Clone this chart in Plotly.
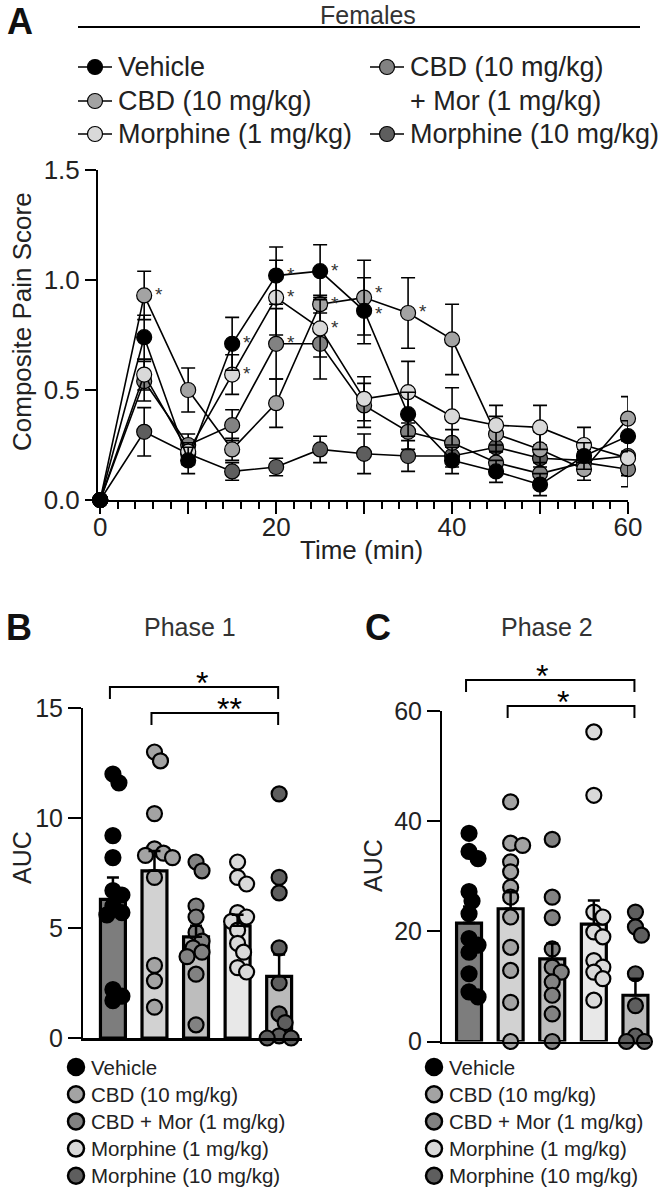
import plotly.graph_objects as go

W, H = 668, 1190
FONT = "Liberation Sans, Arial, sans-serif"
TXT = "#222222"

# ---------------- data ----------------
time_min = [0, 5, 10, 15, 20, 25, 30, 35, 40, 45, 50, 55, 60]
group_names = ["Vehicle", "CBD (10 mg/kg)", "CBD + Mor (1 mg/kg)", "Morphine (1 mg/kg)", "Morphine (10 mg/kg)"]

veh = [0, 0.74, 0.18, 0.71, 1.02, 1.04, 0.86, 0.39, 0.18, 0.13, 0.07, 0.20, 0.29]
veh_sem = [0, 0.10, 0.06, 0.12, 0.13, 0.12, 0.15, 0.10, 0.06, 0.05, 0.05, 0.06, 0.07]
cbd = [0, 0.93, 0.50, 0.23, 0.44, 0.89, 0.92, 0.85, 0.73, 0.30, 0.23, 0.14, 0.37]
cbd_sem = [0, 0.11, 0.10, 0.05, 0.11, 0.04, 0.17, 0.16, 0.16, 0.08, 0.08, 0.05, 0.10]
cbdmor = [0, 0.54, 0.25, 0.34, 0.71, 0.71, 0.43, 0.31, 0.26, 0.17, 0.12, 0.17, 0.14]
cbdmor_sem = [0, 0.09, 0.05, 0.07, 0.16, 0.16, 0.10, 0.08, 0.06, 0.05, 0.05, 0.05, 0.08]
mor1 = [0, 0.57, 0.22, 0.57, 0.92, 0.78, 0.46, 0.49, 0.38, 0.34, 0.33, 0.25, 0.19]
mor1_sem = [0, 0.07, 0.04, 0.09, 0.17, 0.13, 0.10, 0.14, 0.13, 0.09, 0.10, 0.08, 0.08]
mor10 = [0, 0.31, 0.21, 0.13, 0.15, 0.23, 0.21, 0.20, 0.20, 0.24, 0.19, 0.18, 0.20]
mor10_sem = [0, 0.11, 0.05, 0.04, 0.04, 0.06, 0.09, 0.07, 0.05, 0.06, 0.06, 0.05, 0.08]

# significance stars in panel A: (group index, time index)
stars_A = [(1, 1), (0, 3), (3, 3), (0, 4), (3, 4), (2, 4), (0, 5), (1, 5), (3, 5), (1, 6), (0, 6), (1, 7)]

# Phase 1 AUC
p1_mean = [6.3, 7.6, 4.6, 5.1, 2.8]
p1_sem = [1.0, 0.9, 0.5, 0.5, 1.0]
p1_veh = [12.0, 11.6, 9.2, 8.2, 6.7, 6.5, 6.0, 5.7, 5.6, 2.2, 1.9, 1.7]
p1_cbd = [13.0, 12.6, 10.2, 8.6, 8.4, 8.3, 8.2, 7.3, 3.3, 2.6, 1.4]
p1_cbdmor = [8.0, 7.6, 6.0, 5.5, 4.8, 4.4, 4.1, 3.9, 3.7, 2.9, 0.6]
p1_mor1 = [8.0, 7.3, 7.0, 5.7, 5.5, 5.3, 4.9, 4.3, 3.9, 3.2, 3.0]
p1_mor10 = [11.1, 7.3, 6.6, 4.1, 2.5, 1.1, 0.7, 0.1, 0.0, 0.0]
p1_sig = [(0, 4, "*"), (1, 4, "**")]

# Phase 2 AUC
p2_mean = [21.5, 24.1, 15.0, 21.3, 8.4]
p2_sem = [3.0, 3.0, 2.8, 4.3, 3.0]
p2_veh = [37.8, 34.5, 33.2, 27.2, 25.5, 23.2, 18.7, 17.5, 16.2, 12.3, 9.0, 8.1]
p2_cbd = [43.5, 36.0, 35.6, 32.6, 30.8, 28.0, 26.2, 22.6, 17.1, 12.9, 7.1, 0.0]
p2_cbdmor = [36.7, 26.2, 22.5, 16.8, 13.5, 12.6, 10.8, 8.4, 5.0, 0.0]
p2_mor1 = [56.2, 44.7, 23.5, 22.6, 19.9, 19.0, 14.7, 13.5, 12.6, 11.4, 7.5]
p2_mor10 = [23.5, 20.8, 19.3, 12.3, 6.5, 1.0, 0.0, 0.0, 0.0]
p2_sig = [(0, 4, "*"), (1, 4, "*")]

# ---------------- styles ----------------
dot_colors = ["#000000", "#a3a3a3", "#828282", "#d9d9d9", "#5e5e5e"]
bar_colors = ["#7d7d7d", "#d2d2d2", "#bdbdbd", "#e8e8e8", "#bababa"]


def PX(x):
    return x / W


def PY(y):
    return 1 - y / H


fig = go.Figure()

# ---------------- Panel A ----------------
A_x0, A_x1, A_ytop, A_ybot = 98, 628, 170, 500
A_xr = [-0.25, 60]
A_yr = [0, 1.5]
A_means = [veh, cbd, cbdmor, mor1, mor10]
A_sems = [veh_sem, cbd_sem, cbdmor_sem, mor1_sem, mor10_sem]
for gi in [4, 2, 1, 3, 0]:
    fig.add_trace(go.Scatter(
        x=time_min, y=A_means[gi], mode="lines+markers", cliponaxis=False,
        line=dict(color="black", width=1.6),
        marker=dict(size=15, color=dot_colors[gi], line=dict(color="black", width=1.2)),
        error_y=dict(type="data", array=A_sems[gi], color="black", thickness=1.6, width=7),
        xaxis="x", yaxis="y", hoverinfo="skip"))

annotations = []

# stars: keep stars at the same time point from colliding by nudging them apart
ppy_A = (A_ybot - A_ytop) / (A_yr[1] - A_yr[0])
STAR_GAP = 21
by_time = {}
for gi, ti in stars_A:
    by_time.setdefault(ti, []).append(gi)
for ti, gis in by_time.items():
    gis = sorted(gis, key=lambda g: -A_means[g][ti])
    pos = [A_means[g][ti] * ppy_A for g in gis]  # pixel heights (up = larger)
    shifts = [0.0] * len(gis)
    for k in range(1, len(gis)):
        gap = (pos[k - 1] + shifts[k - 1]) - (pos[k] + shifts[k])
        if gap < STAR_GAP:
            need = STAR_GAP - gap
            shifts[k - 1] += need / 2
            shifts[k] -= need / 2
    for g, s in zip(gis, shifts):
        annotations.append(dict(x=time_min[ti], y=A_means[g][ti], xref="x", yref="y", text="*",
                                showarrow=False, xshift=15, yshift=1 + s, borderpad=0,
                                font=dict(family=FONT, size=19, color="#333333")))

# ---------------- Panels B & C ----------------
def swarm(vals, ppx, ppy, d=9.5, step=3.0):
    placed, offs = [], []
    for v in vals:
        y = v * ppy
        cands = [0.0]
        for k in range(1, 14):
            cands += [k * step, -k * step]
        chosen = cands[-1]
        for c in cands:
            if all((c - px) ** 2 + (y - py) ** 2 >= d * d for px, py in placed):
                chosen = c
                break
        placed.append((chosen, y))
        offs.append(chosen / ppx)
    return offs


def bar_panel(xa, ya, means, sems, groups, x0, x1, xr, ytop, ybot, yr):
    ppx = (x1 - x0) / (xr[1] - xr[0])
    ppy = (ybot - ytop) / (yr[1] - yr[0])
    cats = list(range(len(means)))
    fig.add_trace(go.Bar(x=cats, y=means, width=0.6, xaxis=xa, yaxis=ya,
                         marker=dict(color=bar_colors, line=dict(color="black", width=3.2)),
                         hoverinfo="skip"))
    for gi, vals in enumerate(groups):
        offs = swarm(vals, ppx, ppy)
        fig.add_trace(go.Scatter(
            x=[gi + o for o in offs], y=vals, mode="markers", cliponaxis=False,
            xaxis=xa, yaxis=ya, hoverinfo="skip",
            marker=dict(size=15, color=dot_colors[gi], line=dict(color="black", width=2.2))))
    fig.add_trace(go.Scatter(
        x=cats, y=means, mode="markers", xaxis=xa, yaxis=ya, cliponaxis=False, hoverinfo="skip",
        marker=dict(size=1, color="rgba(0,0,0,0)"),
        error_y=dict(type="data", array=sems, arrayminus=[0] * len(sems), symmetric=False,
                     color="black", thickness=2.5, width=6)))
    return ppx


B_x0, B_x1, B_xr = 83, 302, [-0.72, 4.55]
B_ytop, B_ybot, B_yr = 708, 1038, [0, 15]
C_x0, C_x1, C_xr = 442, 650, [-0.65, 4.35]
C_ytop, C_ybot, C_yr = 711, 1041.5, [0, 60]

ppx_B = bar_panel("x2", "y2", p1_mean, p1_sem, [p1_veh, p1_cbd, p1_cbdmor, p1_mor1, p1_mor10],
                  B_x0, B_x1, B_xr, B_ytop, B_ybot, B_yr)
ppx_C = bar_panel("x3", "y3", p2_mean, p2_sem, [p2_veh, p2_cbd, p2_cbdmor, p2_mor1, p2_mor10],
                  C_x0, C_x1, C_xr, C_ytop, C_ybot, C_yr)

shapes = []


def brackets(sig, x0, xr, ppx, levels):
    def cx(c):
        return x0 + (c - xr[0]) * ppx
    for (a, b, txt), lev in zip(sig, levels):
        xa, xb = cx(a) - 3, cx(b) - 1
        shapes.append(dict(type="path", xref="paper", yref="paper",
                           path=f"M {PX(xa)},{PY(lev + 12)} L {PX(xa)},{PY(lev)} L {PX(xb)},{PY(lev)} L {PX(xb)},{PY(lev + 12)}",
                           line=dict(color="black", width=2)))
        annotations.append(dict(x=PX((xa + xb) / 2), y=PY(lev - 4), xref="paper", yref="paper",
                                text=txt, showarrow=False, yanchor="middle",
                                font=dict(family=FONT, size=32, color="black")))


brackets(p1_sig, B_x0, B_xr, ppx_B, [687, 713])
brackets(p2_sig, C_x0, C_xr, ppx_C, [680, 706])

# Females header
shapes.append(dict(type="line", xref="paper", yref="paper", x0=PX(78), x1=PX(640), y0=PY(27), y1=PY(27),
                   line=dict(color="black", width=2)))


def text(x, y, s, size, color=TXT, angle=0, xanchor="center", bold=False):
    annotations.append(dict(x=PX(x), y=PY(y), xref="paper", yref="paper", text=(f"<b>{s}</b>" if bold else s),
                            showarrow=False, textangle=angle, xanchor=xanchor, yanchor="middle",
                            borderpad=0, font=dict(family=FONT, size=size, color=color)))


text(368, 15, "Females", 25, "#333333")
text(20, 21, "A", 36, "#111111", bold=True)
text(19, 627, "B", 36, "#111111", bold=True)
text(378, 627, "C", 36, "#111111", bold=True)
text(190, 627, "Phase 1", 25, "#333333")
text(547, 627, "Phase 2", 25, "#333333")
text(22, 322, "Composite Pain Score", 26, TXT, angle=-90)
text(361, 550, "Time (min)", 26, TXT)
text(22, 858, "AUC", 25, TXT, angle=-90)
text(373, 866, "AUC", 25, TXT, angle=-90)

# Legend A (two columns, line-circle-line symbols)
legA = [(95, 67, 0, "Vehicle"), (95, 101, 1, "CBD (10 mg/kg)"), (95, 134, 3, "Morphine (1 mg/kg)"),
        (387, 67, 2, "CBD (10 mg/kg)"), (387, 134, 4, "Morphine (10 mg/kg)")]
for mx, my, gi, lab in legA:
    fig.add_trace(go.Scatter(x=[mx - 17, mx + 17], y=[my, my], mode="lines", xaxis="x4", yaxis="y4",
                             line=dict(color="black", width=1.6), hoverinfo="skip", cliponaxis=False))
    fig.add_trace(go.Scatter(x=[mx], y=[my], mode="markers", xaxis="x4", yaxis="y4", cliponaxis=False,
                             marker=dict(size=15, color=dot_colors[gi], line=dict(color="black", width=1.2)),
                             hoverinfo="skip"))
    text(mx + 22, my, lab, 27, TXT, xanchor="left")
text(409, 101, "+ Mor (1 mg/kg)", 27, TXT, xanchor="left")

# Legends B & C
for lx in (76, 434):
    for gi, lab in enumerate(group_names):
        ly = 1067 + gi * 27.2
        fig.add_trace(go.Scatter(x=[lx], y=[ly], mode="markers", xaxis="x4", yaxis="y4", cliponaxis=False,
                                 marker=dict(size=16, color=dot_colors[gi], line=dict(color="black", width=2.5)),
                                 hoverinfo="skip"))
        text(lx + 14, ly, lab, 20.5, TXT, xanchor="left")

tickfont = dict(family=FONT, size=26, color=TXT)
tickfont_bc = dict(family=FONT, size=25, color=TXT)
axcommon = dict(showline=True, linecolor="black", linewidth=2, showgrid=False, zeroline=False,
                ticks="outside", tickcolor="black", tickwidth=2)

fig.update_layout(
    width=W, height=H, margin=dict(l=0, r=0, t=0, b=0, autoexpand=False),
    paper_bgcolor="white", plot_bgcolor="rgba(0,0,0,0)", showlegend=False,
    xaxis=dict(domain=[PX(A_x0), PX(A_x1)], range=A_xr, anchor="y",
               tickvals=[0, 10, 20, 30, 40, 50, 60], ticktext=["0", "", "20", "", "40", "", "60"],
               ticklen=12, tickfont=tickfont, ticklabelstandoff=-9,
               minor=dict(dtick=2, tick0=0, ticks="outside", ticklen=7, tickwidth=2, tickcolor="black"),
               **axcommon),
    yaxis=dict(domain=[PY(A_ybot), PY(A_ytop)], range=A_yr, anchor="x",
               tickvals=[0, 0.5, 1.0, 1.5], ticktext=["0.0", "0.5", "1.0", "1.5"],
               ticklen=11, tickfont=tickfont, **axcommon),
    xaxis2=dict(domain=[PX(B_x0), PX(B_x1)], range=B_xr, anchor="y2", showline=True, linecolor="black",
                linewidth=2.5, showgrid=False, zeroline=False, ticks="", showticklabels=False),
    yaxis2=dict(domain=[PY(B_ybot), PY(B_ytop)], range=B_yr, anchor="x2",
                tickvals=[0, 5, 10, 15], ticklen=13, tickfont=tickfont_bc, **axcommon),
    xaxis3=dict(domain=[PX(C_x0), PX(C_x1)], range=C_xr, anchor="y3", showline=True, linecolor="black",
                linewidth=2.5, showgrid=False, zeroline=False, ticks="", showticklabels=False),
    yaxis3=dict(domain=[PY(C_ybot), PY(C_ytop)], range=C_yr, anchor="x3",
                tickvals=[0, 20, 40, 60], ticklen=13, tickfont=tickfont_bc, **axcommon),
    xaxis4=dict(domain=[0, 1], range=[0, W], visible=False, anchor="y4"),
    yaxis4=dict(domain=[0, 1], range=[H, 0], visible=False, anchor="x4"),
    shapes=shapes, annotations=annotations,
)

fig.write_html("out.html", config={"displayModeBar": False, "staticPlot": True},
               post_script="document.body.style.margin='0px';")
